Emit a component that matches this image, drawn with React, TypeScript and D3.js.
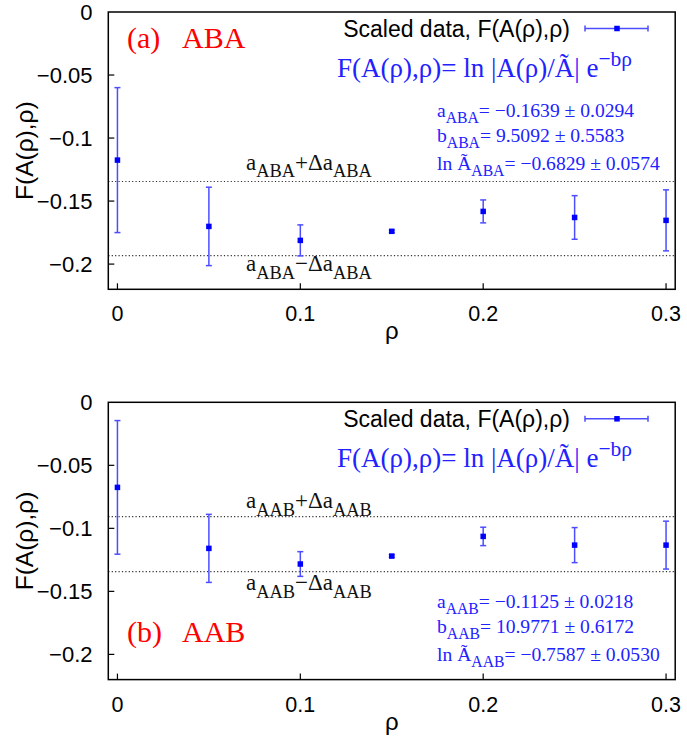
import React from "react";
import * as d3 from "d3";

const rho = [0, 0.05, 0.1, 0.15, 0.2, 0.25, 0.3];
const abaValues = [-0.1175, -0.1701, -0.1812, -0.174, -0.1582, -0.163, -0.1653];
const abaErrors = [0.0575, 0.0311, 0.0123, 0.001, 0.0091, 0.0173, 0.0242];
const aabValues = [-0.0675, -0.1159, -0.1283, -0.122, -0.1064, -0.1133, -0.1133];
const aabErrors = [0.053, 0.027, 0.0098, 0.001, 0.0073, 0.0139, 0.019];

const panelTags = ["(a)", "(b)"];
const panelNames = ["ABA", "AAB"];
const fitA = [-0.1639, -0.1125];
const fitDA = [0.0294, 0.0218];
const fitALabels = ["−0.1639 ± 0.0294", "−0.1125 ± 0.0218"];
const fitBLabels = ["9.5092 ± 0.5583", "10.9771 ± 0.6172"];
const fitLnALabels = ["−0.6829 ± 0.0574", "−0.7587 ± 0.0530"];

const xTicks = [0, 0.1, 0.2, 0.3];
const xTickLabels = ["0", "0.1", "0.2", "0.3"];
const yTicks = [0, -0.05, -0.1, -0.15, -0.2];
const yTickLabels = ["0", "−0.05", "−0.1", "−0.15", "−0.2"];

const SANS = "'Liberation Sans', Arial, Helvetica, sans-serif";
const SERIF = "'Liberation Serif', 'Times New Roman', Times, serif";
const BLUE = "#0000ff";
const BAR = "#4d4dff";
const TBLUE = "#2222ff";
const RED = "#ff0000";

const W = 687;
const H = 749;
const LEFT = 108.3;
const RIGHT = 675.2;
const PANEL_H = 277.3;

function Panel({ idx, top }: { idx: number; top: number }) {
  const values = idx === 0 ? abaValues : aabValues;
  const errors = idx === 0 ? abaErrors : aabErrors;
  const name = panelNames[idx];
  const x = d3.scaleLinear().domain([-0.005, 0.305]).range([LEFT, RIGHT]);
  const y = d3.scaleLinear().domain([-0.22, 0]).range([top + PANEL_H, top]);
  const upper = fitA[idx] + fitDA[idx];
  const lower = fitA[idx] - fitDA[idx];
  const bottom = top + PANEL_H;
  const ms = 5.5;
  const cap = 3;
  const isA = idx === 0;

  const tagY = isA ? top + 36 : top + 239.5;
  const legY = top + 25;
  const formY = top + 64.5;
  const fitY0 = isA ? top + 105 : top + 206;
  const annUpY = isA ? y(upper) - 11.7 : y(upper) - 8.5;
  const annLoY = isA ? y(lower) + 15.7 : y(lower) + 18.5;
  const annSize = 23;
  const annSub = 18.4;
  const fitSize = 19.6;
  const fitSub = 15.7;

  return (
    <g>
      {[upper, lower].map((v, i) => (
        <line key={i} x1={LEFT} x2={RIGHT} y1={y(v)} y2={y(v)} stroke="#333" strokeWidth={1.1} strokeDasharray="1.2,2.2" />
      ))}
      {rho.map((r, i) => {
        const cx = x(r);
        const y1 = y(values[i] + errors[i]);
        const y2 = y(values[i] - errors[i]);
        return (
          <g key={i}>
            <line x1={cx} x2={cx} y1={y1} y2={y2} stroke={BAR} strokeWidth={1.5} />
            <line x1={cx - cap} x2={cx + cap} y1={y1} y2={y1} stroke={BAR} strokeWidth={1.5} />
            <line x1={cx - cap} x2={cx + cap} y1={y2} y2={y2} stroke={BAR} strokeWidth={1.5} />
            <rect x={cx - ms / 2} y={y(values[i]) - ms / 2} width={ms} height={ms} fill={BLUE} />
          </g>
        );
      })}
      <rect x={LEFT} y={top} width={RIGHT - LEFT} height={PANEL_H} fill="none" stroke="#000" strokeWidth={1.5} />
      {yTicks.map((t, i) => (
        <g key={i}>
          {i > 0 && <line x1={LEFT} x2={LEFT + 6} y1={y(t)} y2={y(t)} stroke="#000" strokeWidth={1.2} />}
          <text x={92.5} y={y(t) + 7.8} textAnchor="end" fontFamily={SANS} fontSize={22} fill="#000">{yTickLabels[i]}</text>
        </g>
      ))}
      {xTicks.map((t, i) => (
        <g key={i}>
          <line x1={x(t)} x2={x(t)} y1={bottom} y2={bottom - 6} stroke="#000" strokeWidth={1.2} />
          <text x={x(t)} y={bottom + 32} textAnchor="middle" fontFamily={SANS} fontSize={21.5} fill="#000">{xTickLabels[i]}</text>
        </g>
      ))}
      <text x={(LEFT + RIGHT) / 2} y={bottom + 50} textAnchor="middle" fontFamily={SANS} fontSize={24} fill="#000">ρ</text>
      <text transform={`translate(33,${top + PANEL_H / 2}) rotate(-90)`} textAnchor="middle" fontFamily={SANS} fontSize={24.5} fill="#000">F(A(ρ),ρ)</text>

      <text x={127} y={tagY} fontFamily={SERIF} fontSize={30} fill={RED}>{panelTags[idx]}</text>
      <text x={182} y={tagY} fontFamily={SERIF} fontSize={30} fill={RED}>{name}</text>

      <text x={570} y={legY} textAnchor="end" fontFamily={SANS} fontSize={23} fill="#000">Scaled data, F(A(ρ),ρ)</text>
      <line x1={585} x2={648} y1={legY - 8.5} y2={legY - 8.5} stroke={BAR} strokeWidth={1.5} />
      <line x1={585} x2={585} y1={legY - 11.5} y2={legY - 5.5} stroke={BAR} strokeWidth={1.5} />
      <line x1={648} x2={648} y1={legY - 11.5} y2={legY - 5.5} stroke={BAR} strokeWidth={1.5} />
      <rect x={617 - ms / 2} y={legY - 8.5 - ms / 2} width={ms} height={ms} fill={BLUE} />

      <text x={337} y={formY} fontFamily={SERIF} fontSize={27} fill={TBLUE}>
        F(A(ρ),ρ)= ln |A(ρ)/Ã| e<tspan fontSize={21.5} dy={-11}>−bρ</tspan>
      </text>

      <text x={437} y={fitY0} fontFamily={SERIF} fontSize={fitSize} fill={TBLUE}>
        a<tspan fontSize={fitSub} dy={6}>{name}</tspan><tspan dy={-6}>= {fitALabels[idx]}</tspan>
      </text>
      <text x={437} y={fitY0 + 25} fontFamily={SERIF} fontSize={fitSize} fill={TBLUE}>
        b<tspan fontSize={fitSub} dy={6}>{name}</tspan><tspan dy={-6}>= {fitBLabels[idx]}</tspan>
      </text>
      <text x={437} y={fitY0 + 53} fontFamily={SERIF} fontSize={fitSize} fill={TBLUE}>
        ln Ã<tspan fontSize={fitSub} dy={6}>{name}</tspan><tspan dy={-6}>= {fitLnALabels[idx]}</tspan>
      </text>

      <text x={246} y={annUpY} fontFamily={SERIF} fontSize={annSize} fill="#111">
        a<tspan fontSize={annSub} dy={7.5}>{name}</tspan><tspan dy={-7.5}>+Δa</tspan><tspan fontSize={annSub} dy={7.5}>{name}</tspan>
      </text>
      <text x={246} y={annLoY} fontFamily={SERIF} fontSize={annSize} fill="#111">
        a<tspan fontSize={annSub} dy={7.5}>{name}</tspan><tspan dy={-7.5}>−Δa</tspan><tspan fontSize={annSub} dy={7.5}>{name}</tspan>
      </text>
    </g>
  );
}

export default function App() {
  return (
    <svg width={W} height={H} style={{ position: "absolute", left: 0, top: 0, background: "#fff" }}>
      <rect width={W} height={H} fill="#fff" />
      <Panel idx={0} top={12} />
      <Panel idx={1} top={402.3} />
    </svg>
  );
}
